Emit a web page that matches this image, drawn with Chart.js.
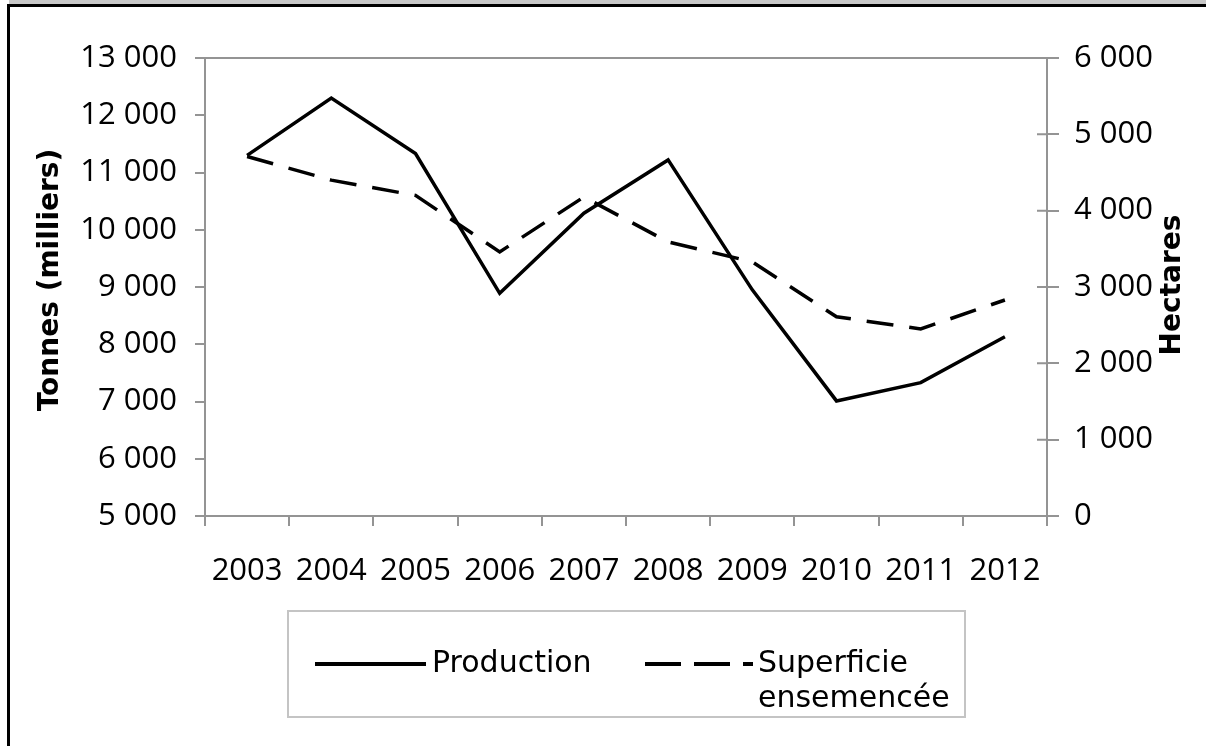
<!DOCTYPE html>
<html>
<head>
<meta charset="utf-8">
<script src="https://cdn.jsdelivr.net/npm/chart.js@4.4.0/dist/chart.umd.min.js"></script>
<style>
    html, body { margin: 0; padding: 0; background: #fff; }
    body { width: 1206px; height: 746px; position: relative; overflow: hidden; }
    #bande { position: absolute; left: 9px; top: 0; width: 1197px; height: 4px; background: #c8c8c8; }
    #trait { position: absolute; left: 7px; top: 4px; width: 1199px; height: 3px; background: #000; }
    #bord { position: absolute; left: 7px; top: 4px; width: 3px; height: 742px; background: #000; }
    #zone { position: absolute; left: 0; top: 0; width: 1206px; height: 746px; }
</style>
</head>
<body>
<div id="bande"></div>
<div id="trait"></div>
<div id="bord"></div>
<div id="zone"><canvas id="graphique"></canvas></div>

<script>
// Données
const annees = ['2003', '2004', '2005', '2006', '2007', '2008', '2009', '2010', '2011', '2012'];
const production = [11300, 12300, 11330, 8890, 10290, 11220, 8950, 7010, 7330, 8130];
const superficie = [4710, 4400, 4200, 3460, 4180, 3590, 3330, 2610, 2450, 2830];
const libelles = ['Production', 'Superficie ensemencée'];
const titresAxes = ['Tonnes (milliers)', 'Hectares'];
const bornesTonnes = [5000, 13000];
const bornesHectares = [0, 6000];
const pasGraduation = 1000;

const couleurAxe = '#949494';
const policeTicks = { family: '"Open Sans"', size: 31 };
const tailleTitre = 28;

function formatMilliers(v) {
    return String(v).replace(/\B(?=(\d{3})+(?!\d))/g, ' ');
}

// Bordure haute, petites graduations intérieures à droite, titres des axes
const cadrePlugin = {
    id: 'cadre',
    beforeDatasetsDraw(chart) {
        const { ctx, chartArea } = chart;
        const echelle = chart.scales.yHectares;
        const milieu = (chartArea.top + chartArea.bottom) / 2;
        ctx.save();
        ctx.strokeStyle = couleurAxe;
        ctx.lineWidth = 2;
        ctx.beginPath();
        ctx.moveTo(chartArea.left, chartArea.top);
        ctx.lineTo(chartArea.right, chartArea.top);
        echelle.ticks.forEach(t => {
            const y = echelle.getPixelForValue(t.value);
            ctx.moveTo(chartArea.right - 10, y);
            ctx.lineTo(chartArea.right, y);
        });
        ctx.stroke();

        // les deux titres se lisent de bas en haut
        ctx.font = 'bold ' + tailleTitre + 'px "DejaVu Sans"';
        ctx.fillStyle = '#000';
        ctx.textAlign = 'center';
        ctx.textBaseline = 'middle';
        [[51, milieu - 7, titresAxes[0]], [1173, milieu - 2, titresAxes[1]]].forEach(([x, y, txt]) => {
            ctx.save();
            ctx.translate(x, y);
            ctx.rotate(-Math.PI / 2);
            ctx.fillText(txt, 0, 0);
            ctx.restore();
        });
        ctx.restore();
    }
};

// Légende encadrée sous le graphique
const legendePlugin = {
    id: 'legendeBoite',
    afterDraw(chart) {
        const ctx = chart.ctx;
        const ds = chart.data.datasets;
        ctx.save();
        ctx.strokeStyle = '#c4c4c4';
        ctx.lineWidth = 2;
        ctx.strokeRect(288, 611, 677, 106);

        ctx.font = '30px "DejaVu Sans"';
        ctx.fillStyle = '#000';
        ctx.textBaseline = 'middle';

        // Production
        ctx.strokeStyle = ds[0].borderColor;
        ctx.lineWidth = 4;
        ctx.beginPath();
        ctx.moveTo(315, 664);
        ctx.lineTo(426, 664);
        ctx.stroke();
        ctx.fillText(ds[0].label, 432, 664);

        // Superficie
        ctx.strokeStyle = ds[1].borderColor;
        ctx.setLineDash([36, 13]);
        ctx.beginPath();
        ctx.moveTo(645, 664);
        ctx.lineTo(753, 664);
        ctx.stroke();
        ctx.setLineDash([]);
        const mots = ds[1].label.split(' ');
        ctx.fillText(mots[0], 758, 664);
        ctx.fillText(mots.slice(1).join(' '), 758, 699);
        ctx.restore();
    }
};

const ctx = document.getElementById('graphique').getContext('2d');
const graphique = new Chart(ctx, {
    type: 'line',
    data: {
        labels: annees,
        datasets: [
            {
                label: libelles[0],
                data: production,
                yAxisID: 'yTonnes',
                borderColor: '#000',
                borderWidth: 3.5,
                pointRadius: 0,
                tension: 0,
                fill: false
            },
            {
                label: libelles[1],
                data: superficie,
                yAxisID: 'yHectares',
                borderColor: '#000',
                borderWidth: 3.5,
                borderDash: [27, 16],
                pointRadius: 0,
                tension: 0,
                fill: false
            }
        ]
    },
    options: {
        responsive: true,
        maintainAspectRatio: false,
        animation: false,
        layout: {
            padding: { left: 25, right: 10, top: 58, bottom: 150 }
        },
        scales: {
            x: {
                offset: true,
                grid: {
                    offset: true,
                    drawOnChartArea: false,
                    color: couleurAxe,
                    tickLength: 10,
                    lineWidth: 2
                },
                border: { color: couleurAxe, width: 2 },
                ticks: {
                    color: '#000',
                    font: policeTicks,
                    padding: 27,
                    maxRotation: 0,
                    autoSkip: false
                },
                afterFit(scale) { scale.height = 80; }
            },
            yTonnes: {
                position: 'left',
                min: bornesTonnes[0],
                max: bornesTonnes[1],
                grid: {
                    drawOnChartArea: false,
                    color: couleurAxe,
                    tickLength: 10,
                    lineWidth: 2
                },
                border: { color: couleurAxe, width: 2 },
                ticks: {
                    stepSize: pasGraduation,
                    color: '#000',
                    font: policeTicks,
                    padding: 18,
                    callback: v => formatMilliers(v)
                },
                afterFit(scale) { scale.width = 180; }
            },
            yHectares: {
                position: 'right',
                min: bornesHectares[0],
                max: bornesHectares[1],
                grid: {
                    drawOnChartArea: false,
                    color: couleurAxe,
                    tickLength: 12,
                    lineWidth: 2
                },
                border: { color: couleurAxe, width: 2 },
                ticks: {
                    stepSize: pasGraduation,
                    color: '#000',
                    font: policeTicks,
                    padding: 15,
                    callback: v => formatMilliers(v)
                },
                afterFit(scale) { scale.width = 149; }
            }
        },
        plugins: {
            legend: { display: false },
            tooltip: { enabled: false }
        }
    },
    plugins: [cadrePlugin, legendePlugin]
});
</script>
</body>
</html>
